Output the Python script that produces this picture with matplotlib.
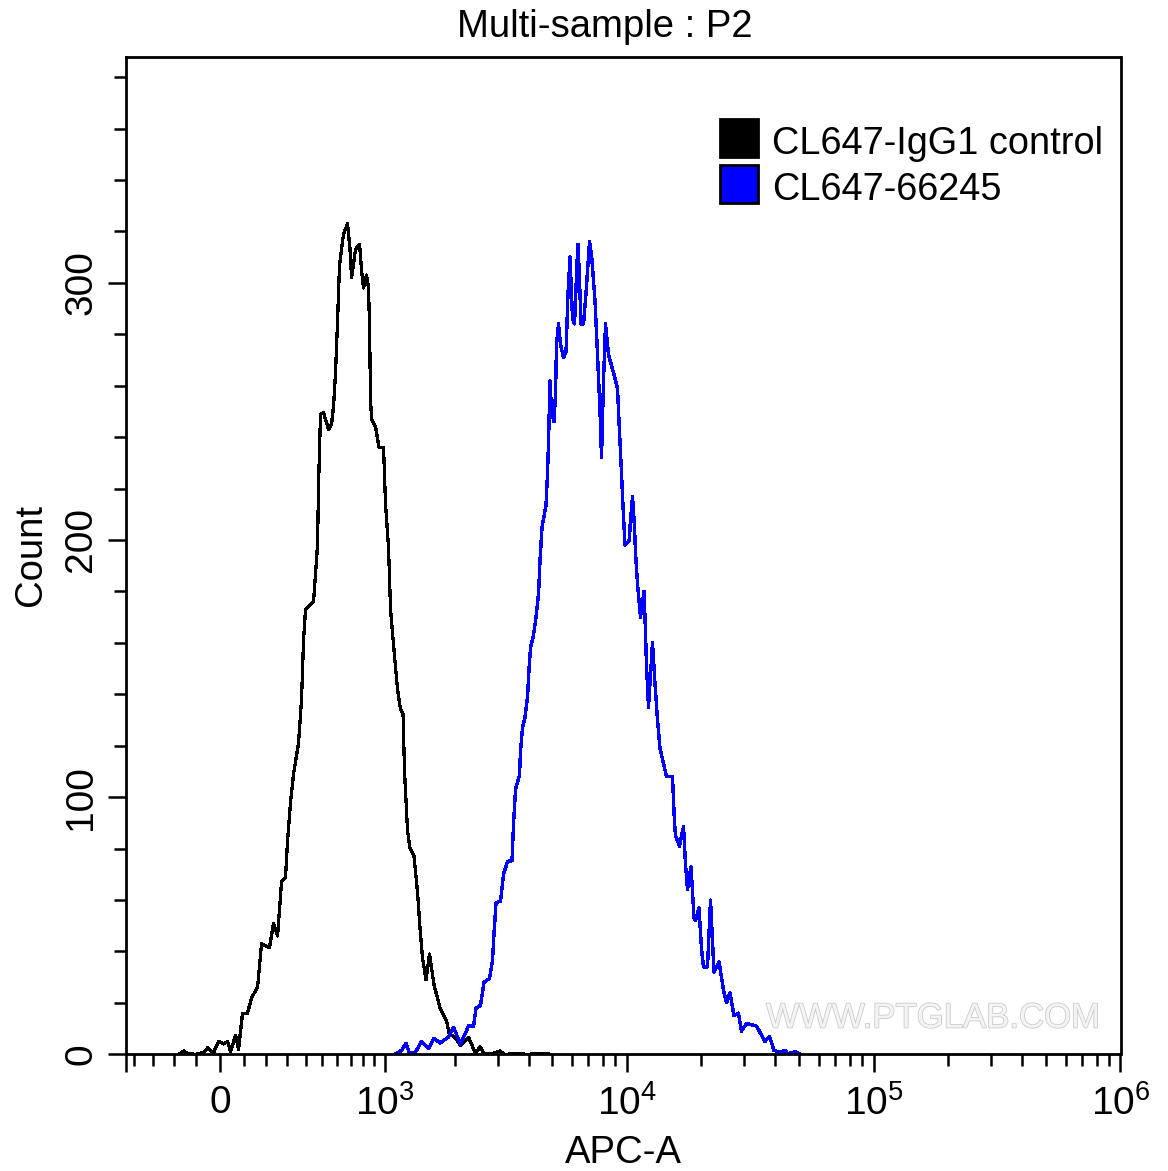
import numpy as np
import matplotlib
matplotlib.use("Agg")
import matplotlib.pyplot as plt
import matplotlib.patheffects as pe
from matplotlib.patches import Patch
from matplotlib.ticker import FixedLocator, FixedFormatter, NullFormatter

plt.rcParams["font.family"] = ["Liberation Sans", "DejaVu Sans"]
plt.rcParams["mathtext.fontset"] = "custom"
plt.rcParams["mathtext.rm"] = "Liberation Sans"

# histogram: display channel (0-995 across the axis) and count
black_channel = [54.5, 58.5, 62, 71, 75, 78, 82, 88, 93, 98, 102, 105, 110, 113, 117, 122, 126, 132,
                 136, 144, 148, 152, 156, 160, 162, 165, 168, 173, 176, 178, 180, 188, 192, 193,
                 195, 198, 203, 206, 208, 210, 212, 214, 218, 222, 224.5, 226, 230, 234, 236, 238,
                 241, 243, 244, 245, 246, 250, 253.5, 258, 260, 263, 265, 268.5, 272, 275, 277.5,
                 279, 280.5, 282, 284.5, 288.5, 292, 294.5, 297, 300.5, 304, 308.5, 314.5, 321,
                 324, 328.5, 335, 343, 350, 354.5, 358.5, 364.5, 374.5, 379, 394.5, 400, 420, 425]
black_count = [0.3, 1.3, 0.2, 0, 0.5, 0.5, 2.5, 0.6, 5, 4, 5, 1, 7.4, 2, 16, 16, 22, 26,
               43, 41.5, 51, 46, 67, 69, 83, 98, 109, 121, 138, 161, 173, 176, 198, 221,
               249, 249.5, 243, 245, 252, 265, 285, 307, 319, 323, 313, 302, 313, 315, 305, 298,
               303, 298, 283, 255, 247, 244, 236, 236, 214, 197, 173, 157, 142, 134, 132.5,
               110, 98.5, 87, 80, 77, 63, 49, 37.5, 29, 39, 27, 18, 13,
               7.4, 7, 3.5, 6.6, 0.4, 3, 0.4, 0, 1.3, 0, 0.3, 0, 0.3, 0]

blue_channel = [271, 276, 280.5, 284, 289.5, 296, 303, 308.5, 314.5, 323, 328, 335, 343, 348, 350.5,
                355, 358.5, 364, 367, 368.5, 370.5, 375, 378, 382, 386.5, 388, 390, 394, 395, 397,
                399.5, 402, 403.5, 405, 408, 410.5, 413, 414.5, 416.5, 420.5, 422, 423, 424.5, 426,
                428.5, 430, 431, 433, 435, 438, 440.5, 442.5, 444.5, 447, 449, 452, 452.5, 454,
                455.5, 458, 460.5, 464, 466, 469.5, 472, 474.5, 476, 478, 480, 483, 488, 492, 493,
                495.5, 498, 499.5, 504, 504.5, 507, 509, 510, 512, 515, 518.5, 520, 521, 523, 527,
                529.5, 532, 534.5, 541, 547, 549, 550, 554, 558, 560, 562, 565.5, 568.5, 570, 573.5,
                576, 578, 582, 585, 588.5, 593.5, 598, 601, 604.5, 608.5, 613, 616, 621, 631, 639.5,
                644, 648.5, 654.5, 659.5, 662.5, 669.5, 674.5]
blue_count = [0.4, 1.5, 4.2, 0.4, 0.5, 5, 2.3, 6.2, 4.4, 6.7, 10.5, 3.9, 11, 10.9, 18,
              19, 28, 29.5, 36.5, 47, 59, 59.5, 70, 75, 75.3, 89.5, 103, 108.5, 118, 127,
              131, 139, 150, 158, 163, 170, 179, 192, 205, 213.5, 226, 238, 262, 250,
              246, 257, 276, 284, 276, 271, 273, 296, 310, 286, 284, 312, 315, 301,
              284, 284, 296, 316, 311, 293, 272, 250, 232, 262, 284, 272, 265, 259, 250,
              230, 209, 198, 200, 205, 217, 205, 195, 183, 170, 180, 164, 151, 135, 160,
              144, 130, 119, 108, 108, 90, 85, 81, 88.5, 74, 64, 73, 53, 52, 57,
              41, 34, 34, 60, 32, 36, 25, 20, 24, 15, 16, 9, 12, 11, 5,
              7, 1.5, 0.8, 1.5, 0.2, 1, 0]

legend_labels = ["CL647-IgG1 control", "CL647-66245"]
series_colors = ["black", "#0000ff"]

x_major = [-452, 0, 1e3, 1e4, 1e5, 1e6]
x_major_labels = ["", "0", r"$\mathdefault{10^{3}}$", r"$\mathdefault{10^{4}}$",
                  r"$\mathdefault{10^{5}}$", r"$\mathdefault{10^{6}}$"]
x_linear_minor = [-400, -300, -200, -100, 100, 200, 300, 400, 500, 600, 700, 800, 900]
y_major = [0, 100, 200, 300]
y_minor = [20, 40, 60, 80, 120, 140, 160, 180, 220, 240, 260, 280, 320, 340, 360, 380]

W = 452.0  # linear width of the biexponential axis
CH_PER_DECADE = 247.0
CH_ZERO = 94.5


def forward(x):
    return np.arcsinh(np.asarray(x, dtype=float) / W) / np.log(10)


def inverse(d):
    return W * np.sinh(np.asarray(d, dtype=float) * np.log(10))


def channel_to_apc(ch):
    return inverse((np.asarray(ch, dtype=float) - CH_ZERO) / CH_PER_DECADE)


fig = plt.figure(figsize=(11.68, 11.71), dpi=100)
ax = fig.add_axes([125.5 / 1168, (1171 - 1054.3) / 1171, 995 / 1168, 997.8 / 1171])

ax.set_xscale("function", functions=(forward, inverse))
ax.set_xlim(-452, 1e6)
ax.set_ylim(0, 388)

# watermark sits under the curves
fig.text(933 / 1168, 1 - 1018 / 1171, "WWW.PTGLAB.COM", fontsize=25,
         color="#f4f4f4", ha="center", va="center", zorder=0,
         path_effects=[pe.withStroke(linewidth=1.2, foreground="#cacaca")])

ax.patch.set_alpha(0)
ax.plot(channel_to_apc(black_channel), black_count, color=series_colors[0], lw=1.6, antialiased=False, zorder=3)
ax.plot(channel_to_apc(blue_channel), blue_count, color=series_colors[1], lw=1.7, antialiased=False, zorder=4)

x_minor = list(x_linear_minor)
for decade in [1e3, 1e4, 1e5]:
    x_minor += [m * decade for m in range(2, 10)]
ax.xaxis.set_major_locator(FixedLocator(x_major))
ax.xaxis.set_major_formatter(FixedFormatter(x_major_labels))
ax.xaxis.set_minor_locator(FixedLocator(x_minor))
ax.xaxis.set_minor_formatter(NullFormatter())
ax.yaxis.set_major_locator(FixedLocator(y_major))
ax.yaxis.set_minor_locator(FixedLocator(y_minor))
ax.yaxis.set_minor_formatter(NullFormatter())

ax.tick_params(axis="both", which="major", length=13, width=1.8, labelsize=28, direction="out")
ax.tick_params(axis="both", which="minor", length=8.6, width=1.8, direction="out")
ax.tick_params(axis="x", which="major", pad=9)
ax.tick_params(axis="y", which="major", pad=6)
for lab in ax.get_yticklabels():
    lab.set_rotation(90)
    lab.set_va("center")

for spine in ax.spines.values():
    spine.set_linewidth(2.0)
    spine.set_zorder(5)

ax.set_title("Multi-sample : P2", fontsize=27.5, pad=14, x=0.4815)
ax.set_xlabel("APC-A", fontsize=27.5, labelpad=9)
ax.set_ylabel("Count", fontsize=27.5, labelpad=10)

handles = [Patch(facecolor=c, edgecolor="black", linewidth=2.0) for c in series_colors]
leg = ax.legend(handles, legend_labels, loc="upper left",
                bbox_to_anchor=((720 - 125.5) / 995, (1054.3 - 119) / 997.8),
                frameon=False, fontsize=27.3, handlelength=1.0, handleheight=1.16, handletextpad=0.38,
                labelspacing=0.17, borderpad=0, borderaxespad=0)
for t in leg.get_texts():
    t.set_position((0, -3))

fig.savefig("out.png", dpi=100)
